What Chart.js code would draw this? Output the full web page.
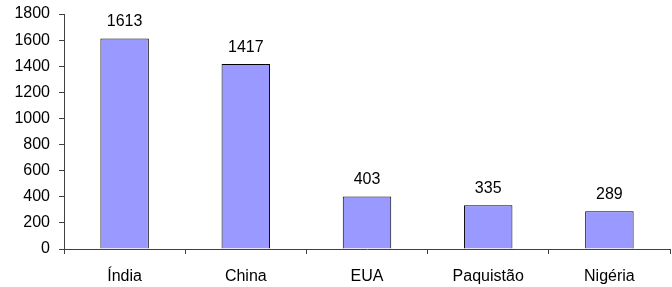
<!DOCTYPE html>
<html>
<head>
<meta charset="utf-8">
<script src="https://cdn.jsdelivr.net/npm/chart.js"></script>
<style>
  html, body { margin: 0; padding: 0; background: #fff; }
  #wrap { width: 672px; height: 287px; }
</style>
</head>
<body>
<div id="wrap"><canvas id="chart"></canvas></div>
<script>
// data
const countries = ['Índia', 'China', 'EUA', 'Paquistão', 'Nigéria'];
const values = [1613, 1417, 403, 335, 289];
const yTicks = [0, 200, 400, 600, 800, 1000, 1200, 1400, 1600, 1800];

const axisColor = '#404040';
const font = { family: 'Liberation Sans, Arial, sans-serif', size: 16 };

// draws the value above each bar
const valueLabels = {
    id: 'valueLabels',
    afterDatasetsDraw(chart) {
        const ctx = chart.ctx;
        const meta = chart.getDatasetMeta(0);
        ctx.save();
        ctx.fillStyle = '#000';
        ctx.font = font.size + 'px ' + font.family;
        ctx.textAlign = 'center';
        ctx.textBaseline = 'alphabetic';
        meta.data.forEach((bar, i) => {
            ctx.fillText(String(values[i]), bar.x, bar.y - 12);
        });
        ctx.restore();
    }
};

new Chart(document.getElementById('chart'), {
    type: 'bar',
    data: {
        labels: countries,
        datasets: [{
            data: values,
            backgroundColor: '#9999FF',
            borderColor: '#000',
            borderWidth: 1,
            categoryPercentage: 1,
            barPercentage: 0.4
        }]
    },
    options: {
        responsive: true,
        maintainAspectRatio: false,
        animation: false,
        layout: { padding: { top: 14, right: 2, left: 0, bottom: 0 } },
        plugins: {
            legend: { display: false },
            tooltip: { enabled: false }
        },
        scales: {
            x: {
                grid: {
                    offset: true,
                    drawOnChartArea: false,
                    drawTicks: true,
                    tickLength: 5,
                    color: axisColor
                },
                border: { color: axisColor, width: 1 },
                ticks: { color: '#000', font: font, padding: 13, maxRotation: 0 },
                afterFit(scale) {
                    scale.height = 38;
                    scale.paddingLeft = 0;
                    scale.paddingRight = 0;
                }
            },
            y: {
                min: 0,
                max: 1800,
                afterBuildTicks(scale) {
                    scale.ticks = yTicks.map(v => ({ value: v }));
                },
                grid: {
                    drawOnChartArea: false,
                    drawTicks: true,
                    tickLength: 5,
                    color: axisColor
                },
                border: { color: axisColor, width: 1 },
                ticks: {
                    color: '#000',
                    font: font,
                    padding: 9,
                    callback: v => String(v)
                },
                afterFit(scale) {
                    scale.width = 64;
                    scale.paddingTop = 0;
                    scale.paddingBottom = 0;
                }
            }
        }
    },
    plugins: [valueLabels]
});
</script>
</body>
</html>
